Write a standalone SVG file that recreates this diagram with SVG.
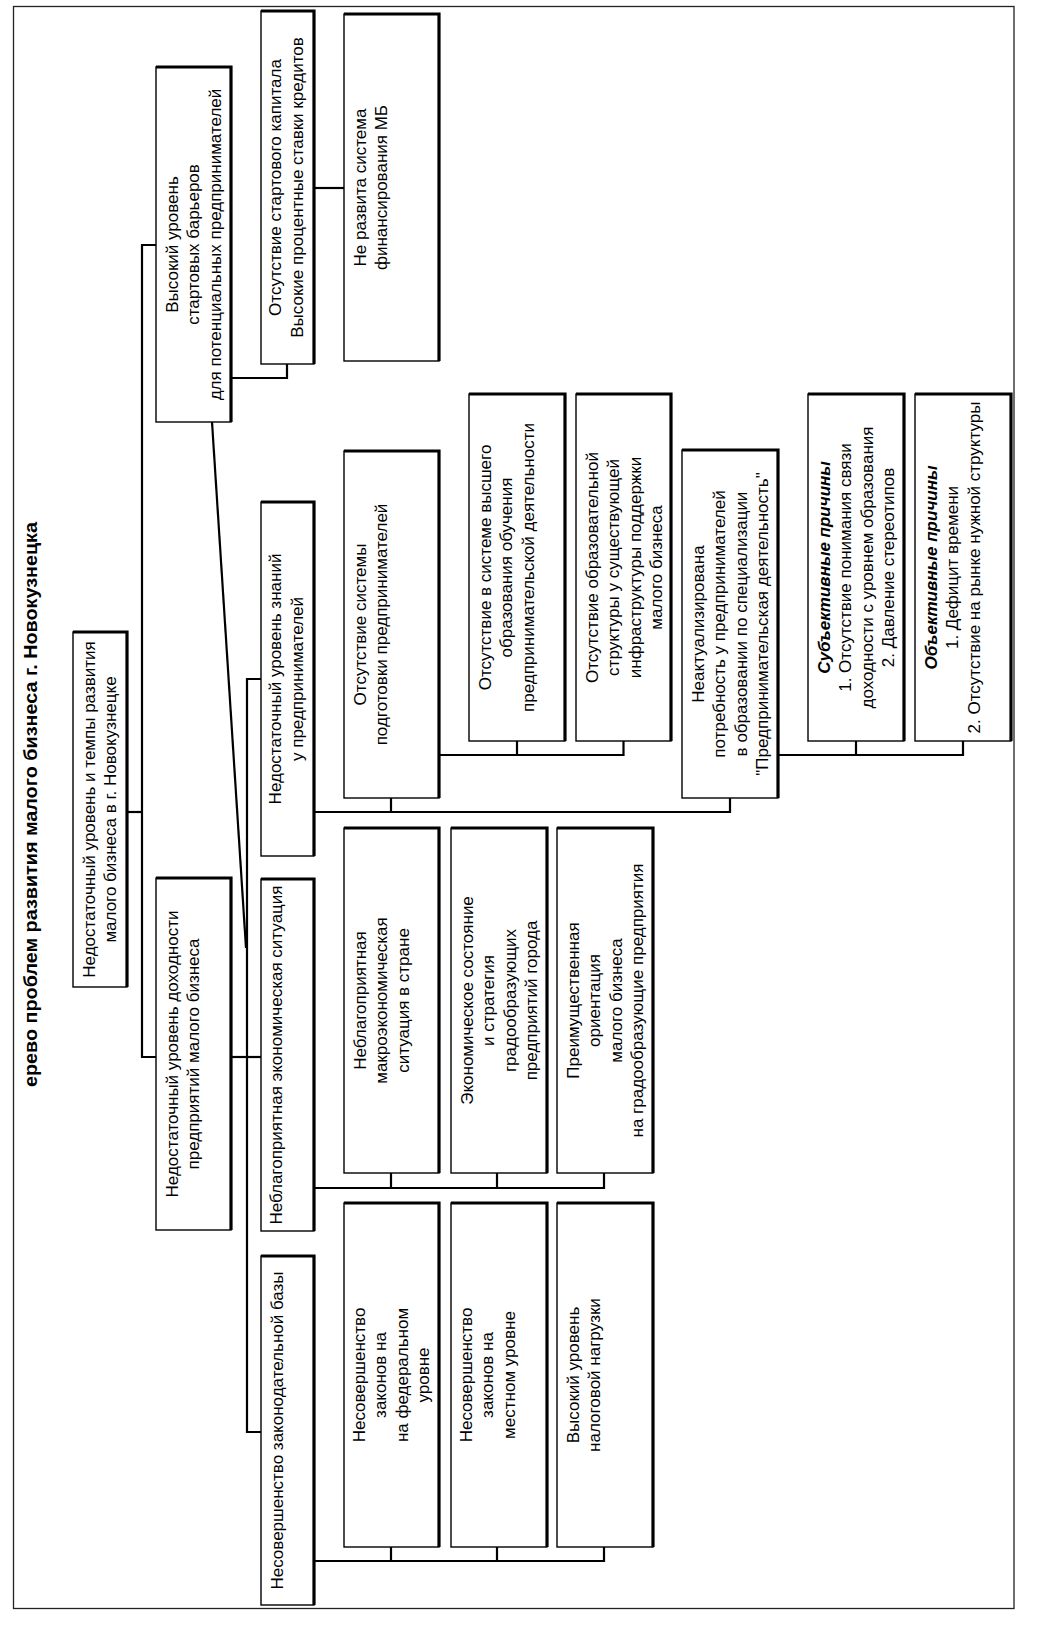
<svg xmlns="http://www.w3.org/2000/svg" width="1057" height="1635" viewBox="0 0 1057 1635">
<style>
.box rect{fill:#fff;stroke:#000;stroke-width:1.4}
.box path{fill:none;stroke:#000;stroke-width:3.2}
text{font-family:"Liberation Sans",Arial,sans-serif;font-size:17px;fill:#000;text-anchor:middle}
.title{font-size:19px;font-weight:bold}
.bi{font-weight:bold;font-style:italic}
.conn path{fill:none;stroke:#000;stroke-width:2.2}
</style>
<rect x="0" y="0" width="1057" height="1635" fill="#fff"/>
<rect id="frame" x="13.5" y="6.5" width="1000.5" height="1602" fill="none" stroke="#222" stroke-width="1.3"/>
<text class="title" transform="translate(37,804.5) rotate(-90)" textLength="565" lengthAdjust="spacingAndGlyphs">ерево проблем развития малого бизнеса г. Новокузнецка</text>

<g id="connectors" class="conn">
<path d="M127 812 H142"/>
<path d="M156 245 H142 V1057 H156"/>
<path d="M231 378 H287 V364"/>
<path d="M314 188 H344"/>
<path d="M212 422 L246 948"/>
<path d="M231 1057 H261"/>
<path d="M261 679 H247 V1432 H261"/>
<path d="M314 812 H730 V798"/>
<path d="M391 812 V798"/>
<path d="M439 755 H623.5 V741"/>
<path d="M517 755 V741"/>
<path d="M778 755 H963 V741"/>
<path d="M856 755 V741"/>
<path d="M314 1188 H604 V1173"/>
<path d="M391 1188 V1173"/>
<path d="M497 1188 V1173"/>
<path d="M314 1561 H604 V1547"/>
<path d="M391 1561 V1547"/>
<path d="M497 1561 V1547"/>
</g>

<g id="n-root" class="box"><rect x="73" y="632" width="54" height="355"/><path d="M73 632 H127 V987"/>
<text transform="translate(73,809.5) rotate(-90)"><tspan x="0" y="21.5">Недостаточный уровень и темпы развития</tspan><tspan x="0" y="43">малого бизнеса в г. Новокузнецке</tspan></text></g>

<g id="n-barriers" class="box"><rect x="156" y="67" width="75" height="355"/><path d="M156 67 H231 V422"/>
<text transform="translate(156,244.5) rotate(-90)"><tspan x="0" y="21.5">Высокий уровень</tspan><tspan x="0" y="43">стартовых барьеров</tspan><tspan x="0" y="64.5">для потенциальных предпринимателей</tspan></text></g>

<g id="n-income" class="box"><rect x="156" y="878" width="75" height="352"/><path d="M156 878 H231 V1230"/>
<text transform="translate(156,1054) rotate(-90)"><tspan x="0" y="21.5">Недостаточный уровень доходности</tspan><tspan x="0" y="43">предприятий малого бизнеса</tspan></text></g>

<g id="n-capital" class="box"><rect x="261" y="11" width="53" height="353"/><path d="M261 11 H314 V364"/>
<text transform="translate(261,187.5) rotate(-90)"><tspan x="0" y="20">Отсутствие стартового капитала</tspan><tspan x="0" y="41.5">Высокие процентные ставки кредитов</tspan></text></g>

<g id="n-knowledge" class="box"><rect x="261" y="502" width="53" height="354"/><path d="M261 502 H314 V856"/>
<text transform="translate(261,679) rotate(-90)"><tspan x="0" y="20">Недостаточный уровень знаний</tspan><tspan x="0" y="41.5">у предпринимателей</tspan></text></g>

<g id="n-econ" class="box"><rect x="261" y="879" width="53" height="352"/><path d="M261 879 H314 V1231"/>
<text transform="translate(261,1055) rotate(-90)"><tspan x="0" y="20.5">Неблагоприятная экономическая ситуация</tspan></text></g>

<g id="n-law" class="box"><rect x="261" y="1256" width="53" height="349"/><path d="M261 1256 H314 V1605"/>
<text transform="translate(261,1430.5) rotate(-90)"><tspan x="0" y="21.5">Несовершенство законодательной базы</tspan></text></g>

<g id="n-finance" class="box"><rect x="344" y="14" width="95" height="347"/><path d="M344 14 H439 V361"/>
<text transform="translate(344,187.5) rotate(-90)"><tspan x="0" y="21.5">Не развита система</tspan><tspan x="0" y="43">финансирования МБ</tspan></text></g>

<g id="n-training" class="box"><rect x="344" y="451" width="95" height="347"/><path d="M344 451 H439 V798"/>
<text transform="translate(344,624.5) rotate(-90)"><tspan x="0" y="21.5">Отсутствие системы</tspan><tspan x="0" y="43">подготовки предпринимателей</tspan></text></g>

<g id="n-macro" class="box"><rect x="344" y="828" width="95" height="345"/><path d="M344 828 H439 V1173"/>
<text transform="translate(344,1000.5) rotate(-90)"><tspan x="0" y="21.5">Неблагоприятная</tspan><tspan x="0" y="43">макроэкономическая</tspan><tspan x="0" y="64.5">ситуация в стране</tspan></text></g>

<g id="n-cityent" class="box"><rect x="451" y="828" width="96" height="345"/><path d="M451 828 H547 V1173"/>
<text transform="translate(451,1000.5) rotate(-90)"><tspan x="0" y="21.5">Экономическое состояние</tspan><tspan x="0" y="43">и стратегия</tspan><tspan x="0" y="64.5">градообразующих</tspan><tspan x="0" y="86">предприятий города</tspan></text></g>

<g id="n-orient" class="box"><rect x="557" y="828" width="96" height="345"/><path d="M557 828 H653 V1173"/>
<text transform="translate(557,1000.5) rotate(-90)"><tspan x="0" y="21.5">Преимущественная</tspan><tspan x="0" y="43">ориентация</tspan><tspan x="0" y="64.5">малого бизнеса</tspan><tspan x="0" y="86">на градообразующие предприятия</tspan></text></g>

<g id="n-federal" class="box"><rect x="344" y="1203" width="95" height="344"/><path d="M344 1203 H439 V1547"/>
<text transform="translate(344,1375) rotate(-90)"><tspan x="0" y="20.5">Несовершенство</tspan><tspan x="0" y="42">законов на</tspan><tspan x="0" y="63.5">на федеральном</tspan><tspan x="0" y="85">уровне</tspan></text></g>

<g id="n-local" class="box"><rect x="451" y="1203" width="96" height="344"/><path d="M451 1203 H547 V1547"/>
<text transform="translate(451,1375) rotate(-90)"><tspan x="0" y="20.5">Несовершенство</tspan><tspan x="0" y="42">законов на</tspan><tspan x="0" y="63.5">местном уровне</tspan></text></g>

<g id="n-tax" class="box"><rect x="557" y="1203" width="96" height="344"/><path d="M557 1203 H653 V1547"/>
<text transform="translate(557,1375) rotate(-90)"><tspan x="0" y="21.5">Высокий уровень</tspan><tspan x="0" y="43">налоговой нагрузки</tspan></text></g>

<g id="n-higher" class="box"><rect x="469" y="394" width="96" height="347"/><path d="M469 394 H565 V741"/>
<text transform="translate(469,567.5) rotate(-90)"><tspan x="0" y="21.5">Отсутствие в системе высшего</tspan><tspan x="0" y="43">образования обучения</tspan><tspan x="0" y="64.5">предпринимательской деятельности</tspan></text></g>

<g id="n-infra" class="box"><rect x="576" y="394" width="95" height="347"/><path d="M576 394 H671 V741"/>
<text transform="translate(576,567.5) rotate(-90)"><tspan x="0" y="21.5">Отсутствие образовательной</tspan><tspan x="0" y="43">структуры у существующей</tspan><tspan x="0" y="64.5">инфраструктуры поддержки</tspan><tspan x="0" y="86">малого бизнеса</tspan></text></g>

<g id="n-need" class="box"><rect x="682" y="450" width="96" height="348"/><path d="M682 450 H778 V798"/>
<text transform="translate(682,624) rotate(-90)"><tspan x="0" y="21.5">Неактуализирована</tspan><tspan x="0" y="43">потребность у предпринимателей</tspan><tspan x="0" y="64.5">в образовании по специализации</tspan><tspan x="0" y="86">"Предпринимательская деятельность"</tspan></text></g>

<g id="n-subj" class="box"><rect x="808" y="394" width="96" height="347"/><path d="M808 394 H904 V741"/>
<text transform="translate(808,567.5) rotate(-90)"><tspan x="0" y="21.5" class="bi">Субъективные причины</tspan><tspan x="0" y="43">1. Отсутствие понимания связи</tspan><tspan x="0" y="64.5">доходности с уровнем образования</tspan><tspan x="0" y="86">2. Давление стереотипов</tspan></text></g>

<g id="n-obj" class="box"><rect x="915" y="394" width="96" height="347"/><path d="M915 394 H1011 V741"/>
<text transform="translate(915,567.5) rotate(-90)"><tspan x="0" y="21.5" class="bi">Объективные причины</tspan><tspan x="0" y="43">1. Дефицит времени</tspan><tspan x="0" y="64.5">2. Отсутствие на рынке нужной структуры</tspan></text></g>
</svg>
